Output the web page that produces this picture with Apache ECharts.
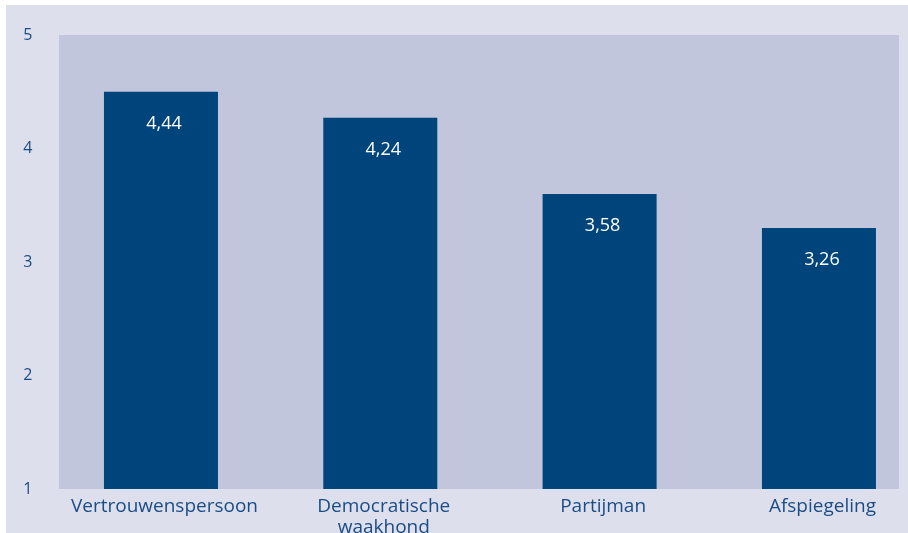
<!DOCTYPE html>
<html>
<head>
<meta charset="utf-8">
<script src="https://cdn.jsdelivr.net/npm/echarts@6/dist/echarts.min.js"></script>
<style>
  html, body { margin: 0; padding: 0; background: #ffffff; overflow: hidden; }
  #wrap { position: relative; width: 908px; height: 533px; overflow: hidden; }
  #panel { position: absolute; left: 6px; top: 5px; width: 902px; height: 528px; background: #dde0ec; }
  #chart { position: absolute; left: 0; top: 0; width: 940px; height: 533px; }
</style>
</head>
<body>
<div id="wrap">
  <div id="panel"></div>
  <div id="chart"></div>
</div>
<script>
// Data
const categories = ['Vertrouwenspersoon', 'Democratische\nwaakhond', 'Partijman', 'Afspiegeling'];
const barValues = [4.5, 4.27, 3.6, 3.3];          // bar heights as drawn
const valueLabels = ['4,44', '4,24', '3,58', '3,26']; // printed labels
const yTicks = [1, 2, 3, 4, 5];

const FONT = '"Open Sans", "Noto Sans", sans-serif';
const TEXT = '#1b4c86';

const chart = echarts.init(document.getElementById('chart'), null, { renderer: 'canvas', width: 940, height: 533 });
chart.setOption({
  backgroundColor: 'transparent',
  animation: false,
  grid: [
    { left: 51.3, width: 877.3, top: 35, height: 454, containLabel: false, outerBoundsMode: 'none' },
    { left: 59, right: 41, top: 35, height: 454, show: true, backgroundColor: '#c1c6dc', borderWidth: 0, z: 0, outerBoundsMode: 'none' }
  ],
  xAxis: [
    {
      gridIndex: 0,
      type: 'category',
      data: categories,
      axisLine: { show: false },
      axisTick: { show: false },
      axisLabel: { interval: 0, color: TEXT, fontFamily: FONT, fontSize: 19, margin: 7, lineHeight: 21, padding: [0, 0, 0, 7] }
    },
    { gridIndex: 1, type: 'value', show: false }
  ],
  yAxis: [
    {
      gridIndex: 0,
      type: 'value',
      min: yTicks[0],
      max: yTicks[yTicks.length - 1],
      interval: 1,
      axisLine: { show: false },
      axisTick: { show: false },
      splitLine: { show: false },
      axisLabel: { color: TEXT, fontFamily: FONT, fontSize: 16, margin: 19 }
    },
    { gridIndex: 1, type: 'value', show: false }
  ],
  series: [{
    type: 'bar',
    xAxisIndex: 0,
    yAxisIndex: 0,
    data: barValues,
    barWidth: 114,
    itemStyle: { color: '#00447c' },
    label: {
      show: true,
      position: 'insideTop',
      distance: 23,
      offset: [3, 0],
      color: '#ffffff',
      fontFamily: FONT,
      fontSize: 18,
      formatter: p => valueLabels[p.dataIndex]
    }
  }]
});
</script>
</body>
</html>
